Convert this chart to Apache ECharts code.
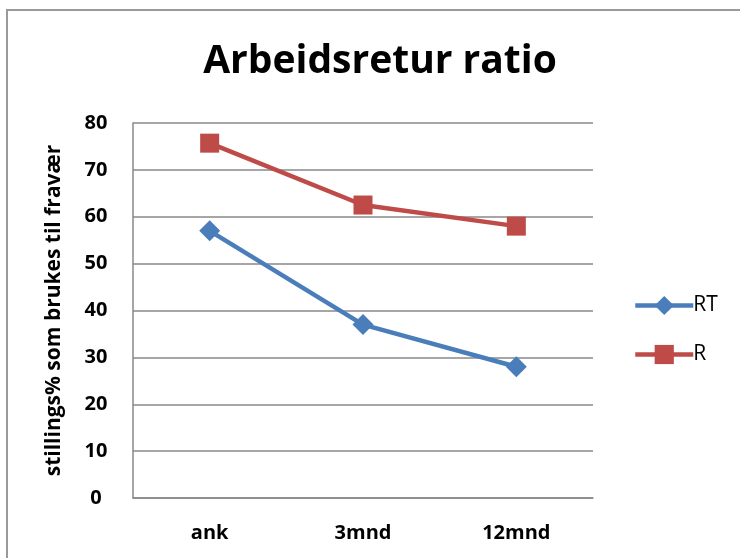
<!DOCTYPE html>
<html><head><meta charset="utf-8">
<script src="https://cdn.jsdelivr.net/npm/echarts@6/dist/echarts.min.js"></script>
<style>html,body{margin:0;padding:0;background:#fff}#c{width:740px;height:558px}</style>
</head><body><div id="c"></div>
<script>
const categories = ['ank', '3mnd', '12mnd'];
const seriesRT = [57, 37, 28];
const seriesR = [75.7, 62.5, 58];
const yTicks = [0, 10, 20, 30, 40, 50, 60, 70, 80];
const titleText = 'Arbeidsretur ratio';
const yAxisName = 'stillings% som brukes til fravær';

const FONT = '"Open Sans", "Liberation Sans", sans-serif';
const chart = echarts.init(document.getElementById('c'));
chart.setOption({
  animation: false,
  graphic: [{
    type: 'rect', shape: { x: 7, y: 10, width: 760, height: 600 },
    style: { fill: 'none', stroke: '#9a9a9a', lineWidth: 2 }, silent: true
  }],
  title: {
    text: titleText, left: 375, top: 37, textAlign: 'center',
    textStyle: { fontFamily: FONT, fontWeight: 'bold', fontSize: 39, color: '#000' }
  },
  legend: {
    orient: 'vertical', left: 628, top: 290, itemGap: 28,
    itemWidth: 58, itemHeight: 24,
    lineStyle: { width: 4.5 },
    textStyle: { fontFamily: FONT, fontSize: 21, color: '#000', padding: [0, 0, 0, -5] },
    data: ['RT', 'R']
  },
  grid: { left: 133, top: 123, width: 460, height: 375, containLabel: false },
  xAxis: {
    type: 'category', data: categories, boundaryGap: true,
    axisLine: { lineStyle: { color: '#888', width: 1.5 } },
    axisTick: { show: false },
    axisLabel: { fontFamily: FONT, fontWeight: 'bold', fontSize: 20, color: '#000', margin: 25 }
  },
  yAxis: {
    type: 'value', min: yTicks[0], max: yTicks[yTicks.length - 1], interval: 10,
    name: yAxisName, nameLocation: 'middle', nameGap: 68, nameRotate: 90,
    nameTextStyle: { fontFamily: FONT, fontWeight: 'bold', fontSize: 21, color: '#000' },
    axisLine: { show: true, lineStyle: { color: '#888', width: 1.5 } },
    axisTick: { show: false },
    splitLine: { lineStyle: { color: '#888', width: 1.5 } },
    axisLabel: { fontFamily: FONT, fontWeight: 'bold', fontSize: 20, color: '#000', margin: 37, align: 'center' }
  },
  series: [
    { name: 'RT', type: 'line', data: seriesRT, symbol: 'diamond', symbolSize: 21,
      itemStyle: { color: '#4a7ebb' }, lineStyle: { color: '#4a7ebb', width: 4.5 } },
    { name: 'R', type: 'line', data: seriesR, symbol: 'rect', symbolSize: 19,
      itemStyle: { color: '#be4b48' }, lineStyle: { color: '#be4b48', width: 4.5 } }
  ]
});
</script></body></html>
